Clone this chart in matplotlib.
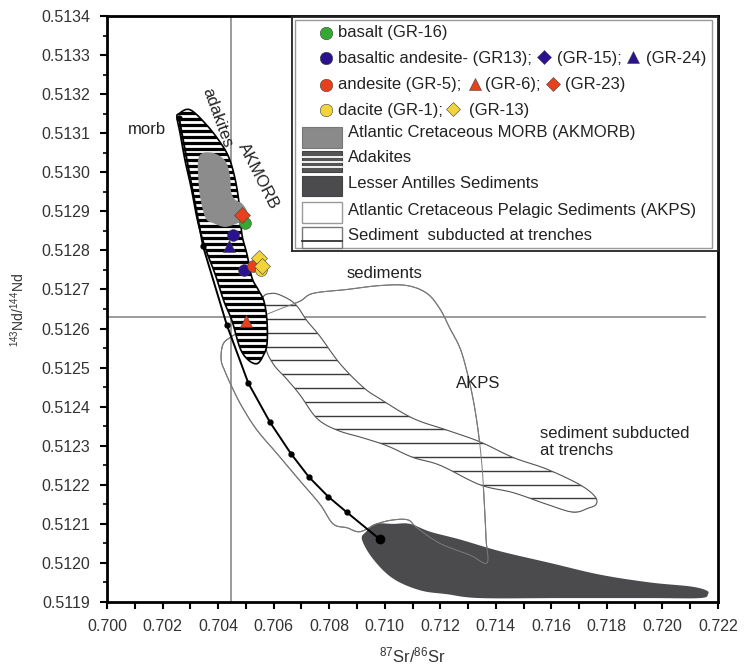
import numpy as np
import matplotlib
matplotlib.use("Agg")
import matplotlib.pyplot as plt
from matplotlib.patches import Polygon, Rectangle

plt.rcParams.update({
    "font.family": ["Liberation Sans", "DejaVu Sans"],
    "mathtext.default": "regular",
})

# =========================
# Data (87Sr/86Sr, 143Nd/144Nd)
# =========================
# mixing curve with its dots
curve_x = [0.70259, 0.70346, 0.70431, 0.70509, 0.70587, 0.70662, 0.70727, 0.70796, 0.70863, 0.70983]
curve_y = [0.51314, 0.51281, 0.51261, 0.51246, 0.51236, 0.51228, 0.51222, 0.51217, 0.51213, 0.51206]

# field of adakites (hatched)
adakite_x = [0.70259, 0.70299, 0.70360, 0.70414, 0.70443, 0.70465, 0.70479, 0.70486, 0.70504,
             0.70522, 0.70544, 0.70565, 0.70576, 0.70576, 0.70562, 0.70540, 0.70508, 0.70479,
             0.70450, 0.70421, 0.70389, 0.70357, 0.70328, 0.70303, 0.70281, 0.70263, 0.70252]
adakite_y = [0.51315, 0.51316, 0.51312, 0.51307, 0.51303, 0.51297, 0.51290, 0.51284, 0.51279,
             0.51273, 0.51270, 0.51267, 0.51262, 0.51256, 0.51253, 0.51251, 0.51252, 0.51255,
             0.51262, 0.51267, 0.51274, 0.51280, 0.51287, 0.51296, 0.51303, 0.51310, 0.51314]

# Atlantic Cretaceous MORB
akmorb_x = [0.70331, 0.70378, 0.70425, 0.70443, 0.70447, 0.70461, 0.70486, 0.70504,
            0.70502, 0.70472, 0.70425, 0.70382, 0.70357, 0.70340, 0.70330]
akmorb_y = [0.51304, 0.51305, 0.51303, 0.51299, 0.51295, 0.51293, 0.51292, 0.51290,
            0.51288, 0.51287, 0.51286, 0.51287, 0.51288, 0.51292, 0.51297]

# sediment subducted at trenches (hatched)
trench_x = [0.70558, 0.70594, 0.70641, 0.70681, 0.70720, 0.70767, 0.70839, 0.70922, 0.70983,
            0.71102, 0.71224, 0.71343, 0.71462, 0.71584, 0.71703, 0.71757, 0.71761, 0.71732,
            0.71678, 0.71584, 0.71462, 0.71343, 0.71199, 0.71102, 0.71008, 0.70922, 0.70828,
            0.70756, 0.70695, 0.70648, 0.70598, 0.70569]
trench_y = [0.51267, 0.51269, 0.51268, 0.51266, 0.51262, 0.51258, 0.51251, 0.51245, 0.51242,
            0.51237, 0.51234, 0.51231, 0.51227, 0.51224, 0.51220, 0.51217, 0.51215, 0.51214,
            0.51213, 0.51215, 0.51218, 0.51220, 0.51225, 0.51227, 0.51230, 0.51232, 0.51234,
            0.51237, 0.51243, 0.51247, 0.51251, 0.51256]

# Atlantic Cretaceous Pelagic Sediments (outline)
akps_x = [0.70695, 0.70623, 0.70558, 0.70497, 0.70450, 0.70418, 0.70411, 0.70425, 0.70450,
          0.70486, 0.70540, 0.70612, 0.70695, 0.70767, 0.70814, 0.70864, 0.70911, 0.70972,
          0.71030, 0.71084, 0.71116, 0.71199, 0.71307, 0.71368, 0.71365, 0.71358, 0.71350,
          0.71336, 0.71318, 0.71296, 0.71271, 0.71235, 0.71199, 0.71152, 0.71080, 0.70983,
          0.70864, 0.70742]
akps_y = [0.51267, 0.51265, 0.51263, 0.51260, 0.51258, 0.51256, 0.51252, 0.51249, 0.51245,
          0.51240, 0.51234, 0.51228, 0.51221, 0.51215, 0.51210, 0.51209, 0.51208, 0.51210,
          0.51211, 0.51211, 0.51209, 0.51205, 0.51202, 0.51200, 0.51206, 0.51216, 0.51225,
          0.51234, 0.51242, 0.51249, 0.51255, 0.51260, 0.51265, 0.51269, 0.51271, 0.51271,
          0.51270, 0.51269]

# Lesser Antilles sediments
antilles_x = [0.70918, 0.70933, 0.70965, 0.71030, 0.71091, 0.71163, 0.71271, 0.71415, 0.71595,
              0.71775, 0.71955, 0.72099, 0.72157, 0.72164, 0.72135, 0.71955, 0.71631, 0.71343,
              0.71224, 0.71127, 0.71030, 0.70958]
antilles_y = [0.51206, 0.51208, 0.51210, 0.51210, 0.51210, 0.51208, 0.51206, 0.51203, 0.51200,
              0.51197, 0.51195, 0.51194, 0.51193, 0.51192, 0.51191, 0.51191, 0.51191, 0.51191,
              0.51192, 0.51193, 0.51196, 0.51201]

# samples
samples = [
    # label, marker, color, x, y
    ("GR-16", "o", "#35a832", 0.70497, 0.51287),
    ("GR-23", "D", "#e8401c", 0.70485, 0.51289),
    ("GR-15", "o", "#2a1190", 0.70455, 0.51284),
    ("GR-24", "^", "#2a1190", 0.70440, 0.51281),
    ("GR13", "o", "#2a1190", 0.70494, 0.51275),
    ("GR-5", "o", "#e8401c", 0.70525, 0.51276),
    ("GR-13", "D", "#f2d33a", 0.70547, 0.51278),
    ("GR-1", "o", "#f2d33a", 0.70553, 0.51275),
    ("GR-13b", "D", "#f2d33a", 0.70558, 0.51276),
    ("GR-6", "^", "#e8401c", 0.70499, 0.51262),
]

ref_sr = 0.70447
ref_nd = 0.51263

xticks = np.arange(0.700, 0.7221, 0.002)
yticks = np.arange(0.5119, 0.51341, 0.0001)

# =========================
# Helpers
# =========================
def smooth_closed(xs, ys, n=10):
    p = np.column_stack([xs, ys])
    m = len(p)
    t = np.linspace(0, 1, n, endpoint=False)[:, None]
    out = []
    for i in range(m):
        p0, p1, p2, p3 = p[i - 1], p[i], p[(i + 1) % m], p[(i + 2) % m]
        out.append(0.5 * (2 * p1 + (-p0 + p2) * t + (2 * p0 - 5 * p1 + 4 * p2 - p3) * t ** 2
                          + (-p0 + 3 * p1 - 3 * p2 + p3) * t ** 3))
    return np.vstack(out)


def striped_field(ax, xs, ys, spacing, stripe_color, stripe_lw, edge, edge_lw, z):
    xy = smooth_closed(xs, ys)
    base = Polygon(xy, closed=True, facecolor="white", edgecolor="none", zorder=z)
    ax.add_patch(base)
    levels = np.arange(min(ys), max(ys), spacing)
    lines = ax.hlines(levels, min(xs), max(xs), colors=stripe_color, lw=stripe_lw, zorder=z + 0.1)
    lines.set_clip_path(base)
    ax.add_patch(Polygon(xy, closed=True, fill=False, edgecolor=edge, lw=edge_lw, zorder=z + 0.2))


# =========================
# Figure
# =========================
fig = plt.figure(figsize=(7.44, 6.67), dpi=100)
ax = fig.add_axes([107 / 744, 65 / 667, 611 / 744, 586 / 667])

ax.set_xlim(0.700, 0.722)
ax.set_ylim(0.5119, 0.5134)

# reference lines
ax.axvline(ref_sr, color="#8a8a8a", lw=1.2, zorder=1)
ax.plot([0.700, 0.72153], [ref_nd, ref_nd], color="#8a8a8a", lw=1.2, zorder=1)

# AKPS outline
akps_xy = smooth_closed(akps_x, akps_y)
ax.add_patch(Polygon(akps_xy, closed=True, fill=False, edgecolor="#6a6a6a", lw=0.8, zorder=2))

# sediment subducted at trenches
striped_field(ax, trench_x, trench_y, 0.0000353, "#3a3a3a", 1.0, "#555555", 0.8, 3)

# Lesser Antilles sediments
ax.add_patch(Polygon(smooth_closed(antilles_x, antilles_y), closed=True,
                     facecolor="#4b4b4e", edgecolor="none", zorder=4))
ax.add_patch(Polygon(akps_xy, closed=True, fill=False, edgecolor="#7c7c7c", lw=0.7, zorder=4.1))

# adakites
striped_field(ax, adakite_x, adakite_y, 0.0000153, "black", 2.3, "black", 1.2, 5)

# AKMORB
ax.add_patch(Polygon(smooth_closed(akmorb_x, akmorb_y), closed=True,
                     facecolor="#8c8c8c", edgecolor="none", zorder=6))

# mixing curve
ax.plot(curve_x, curve_y, color="black", lw=1.4, marker="o", ms=3.5, zorder=7)
ax.plot(curve_x[-1], curve_y[-1], "o", color="black", ms=6, zorder=7)

# samples
for name, mk, col, sx, sy in samples:
    size = 8.5 if mk == "o" else 8
    ax.plot(sx, sy, marker=mk, color=col, ms=size, mec="#444444", mew=0.4,
            linestyle="none", zorder=8)

# field labels
txt = dict(fontsize=12, color="#222222", zorder=9)
ax.text(0.70144, 0.51311, "morb", ha="center", va="center", **txt)
ax.text(0.70396, 0.51314, "adakites", ha="center", va="center", rotation=-70, **txt)
ax.text(0.70544, 0.51299, "AKMORB", ha="center", va="center", rotation=-63, **txt)
ax.text(0.71001, 0.51274, "sediments", ha="center", va="center", **txt)
ax.text(0.71336, 0.51246, "AKPS", ha="center", va="center", **txt)
ax.text(0.71559, 0.51231, "sediment subducted\nat trenchs", ha="left", va="center",
        linespacing=1.15, **txt)

# axes styling
ax.set_xticks(xticks)
ax.set_xticks(np.arange(0.701, 0.7221, 0.002), minor=True)
ax.set_xticklabels([f"{v:.3f}" for v in xticks])
ax.set_yticks(yticks)
ax.set_yticks(np.arange(0.51195, 0.5134, 0.0001), minor=True)
ax.set_yticklabels([f"{v:.4f}" for v in yticks])
ax.tick_params(axis="both", which="major", direction="out", length=5, width=1.5,
               labelsize=11.5, colors="black", labelcolor="#333333")
ax.tick_params(axis="x", which="minor", direction="out", length=5, width=1.5)
ax.tick_params(axis="y", which="minor", direction="out", length=3, width=1.2)
ax.tick_params(axis="x", which="major", pad=7)
ax.tick_params(axis="y", which="major", pad=7)
for side in ["top", "right", "left", "bottom"]:
    ax.spines[side].set_linewidth(2)
    ax.spines[side].set_zorder(10)

fig.text(412 / 744, 1 - 655 / 667, "$^{87}$Sr/$^{86}$Sr", ha="center", va="center",
         fontsize=12, color="#333333")
fig.text(18 / 744, 1 - 310 / 667, "$^{143}$Nd/$^{144}$Nd", ha="center", va="center",
         rotation=90, fontsize=10, color="#333333")

# =========================
# Legend box (pixel units inside the box)
# =========================
lg = fig.add_axes([292 / 744, 1 - 251 / 667, 426 / 744, 234 / 667], zorder=20)
lg.set_xlim(0, 426)
lg.set_ylim(234, 0)
lg.set_xticks([])
lg.set_yticks([])
for side in lg.spines.values():
    side.set_linewidth(1.3)
    side.set_color("#222222")
lg.add_patch(Rectangle((3, 3), 417, 228, fill=False, edgecolor="#9a9a9a", lw=1.0))

lt = dict(fontsize=12, color="#222222", va="center", ha="left")
mk = dict(linestyle="none", mec="#444444", mew=0.4, clip_on=False)

lg.plot(34, 16, "o", color="#35a832", ms=9, **mk)
lg.text(46, 16, "basalt (GR-16)", **lt)

lg.plot(34, 41, "o", color="#2a1190", ms=9, **mk)
lg.text(46, 41, "basaltic andesite- (GR13);", **lt)
lg.plot(252, 40, "D", color="#2a1190", ms=7, **mk)
lg.text(265, 41, "(GR-15);", **lt)
lg.plot(341, 40, "^", color="#2a1190", ms=8, **mk)
lg.text(354, 41, "(GR-24)", **lt)

lg.plot(34, 68, "o", color="#e8401c", ms=9, **mk)
lg.text(46, 68, "andesite (GR-5);", **lt)
lg.plot(183, 67, "^", color="#e8401c", ms=8, **mk)
lg.text(193, 68, "(GR-6);", **lt)
lg.plot(261, 67, "D", color="#e8401c", ms=7, **mk)
lg.text(273, 68, "(GR-23)", **lt)

lg.plot(34, 93, "o", color="#f2d33a", ms=9, **mk)
lg.text(46, 93, "dacite (GR-1);", **lt)
lg.plot(161, 92, "D", color="#f2d33a", ms=7, **mk)
lg.text(177, 93, "(GR-13)", **lt)

lg.add_patch(Rectangle((10, 110), 40, 21, facecolor="#8a8a8a", edgecolor="#777777", lw=0.8))
lg.text(56, 116, "Atlantic Cretaceous MORB (AKMORB)", **lt)

lg.add_patch(Rectangle((10, 134), 40, 21, facecolor="#555555", edgecolor="#444444", lw=0.8))
for yy in [139.5, 144.5, 149.5]:
    lg.plot([10, 50], [yy, yy], color="white", lw=1.3)
lg.text(56, 141, "Adakites", **lt)

lg.add_patch(Rectangle((10, 159), 40, 20, facecolor="#4b4b4e", edgecolor="#444444", lw=0.8))
lg.text(56, 166, "Lesser Antilles Sediments", **lt)

lg.add_patch(Rectangle((10, 185), 40, 21, facecolor="white", edgecolor="#9a9a9a", lw=1.0))
lg.text(56, 193, "Atlantic Cretaceous Pelagic Sediments (AKPS)", **lt)

lg.add_patch(Rectangle((10, 210), 40, 21, facecolor="white", edgecolor="#777777", lw=1.0))
lg.plot([10, 50], [224, 224], color="#333333", lw=1.3)
lg.text(56, 218, "Sediment  subducted at trenches", **lt)

fig.savefig("out.png", dpi=100, facecolor="white")
